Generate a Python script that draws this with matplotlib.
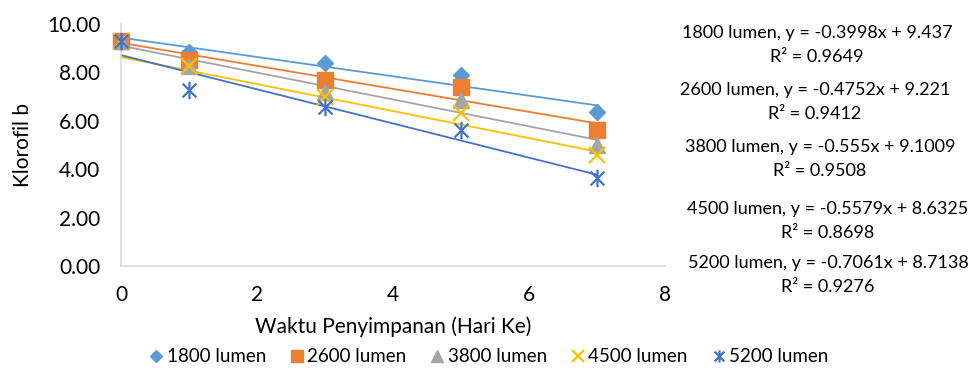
import matplotlib
matplotlib.use("Agg")
import matplotlib.pyplot as plt
import numpy as np
from matplotlib.path import Path

plt.rcParams["font.family"] = ["Lato", "DejaVu Sans"]

# data
days = [0, 1, 3, 5, 7]
lux_1800 = [9.30, 8.85, 8.40, 7.90, 6.38]
lux_2600 = [9.30, 8.53, 7.70, 7.41, 5.63]
lux_3800 = [9.30, 8.28, 7.20, 6.87, 5.01]
lux_4500 = [9.30, 8.28, 7.00, 6.33, 4.60]
lux_5200 = [9.30, 7.29, 6.58, 5.63, 3.64]

labels = ["1800 lumen", "2600 lumen", "3800 lumen", "4500 lumen", "5200 lumen"]
slopes = [-0.3998, -0.4752, -0.555, -0.5579, -0.7061]
intercepts = [9.437, 9.221, 9.1009, 8.6325, 8.7138]
r2 = ["0.9649", "0.9412", "0.9508", "0.8698", "0.9276"]
eq_texts = [
    "1800 lumen, y = -0.3998x + 9.437",
    "2600 lumen, y = -0.4752x + 9.221",
    "3800 lumen, y = -0.555x + 9.1009",
    "4500 lumen, y = -0.5579x + 8.6325",
    "5200 lumen, y = -0.7061x + 8.7138",
]

colors = ["#5B9BD5", "#ED7D31", "#A5A5A5", "#FFC000", "#4472C4"]

# Excel style "star" marker: x with a vertical bar
star = Path(
    [(-1, -1), (1, 1), (-1, 1), (1, -1), (0, -1.25), (0, 1.25)],
    [Path.MOVETO, Path.LINETO, Path.MOVETO, Path.LINETO, Path.MOVETO, Path.LINETO],
)

series = [lux_1800, lux_2600, lux_3800, lux_4500, lux_5200]
markers = ["D", "s", "^", "x", star]
sizes = [8.6, 12, 12, 11.5, 12.5]

fig = plt.figure(figsize=(9.79, 3.68), dpi=100)
ax = fig.add_axes([121 / 979, (368 - 266) / 368, 544 / 979, 242 / 368])

x_fit = np.array([0, 7])
for vals, lab, m, ms, c, k, b in zip(series, labels, markers, sizes, colors, slopes, intercepts):
    ax.plot(x_fit, k * x_fit + b, color=c, lw=1.3, zorder=2)
    if m == "x" or isinstance(m, Path):
        ax.plot(days, vals, ls="none", marker=m, ms=ms, mec=c, mfc="none",
                mew=1.6, label=lab, zorder=3, clip_on=False)
    else:
        ax.plot(days, vals, ls="none", marker=m, ms=ms, color=c, mec=c,
                label=lab, zorder=3, clip_on=False)

ax.set_xlim(0, 8)
ax.set_ylim(0, 10)
ax.set_xticks([0, 2, 4, 6, 8])
ax.set_yticks([0, 2, 4, 6, 8, 10])
ax.yaxis.set_major_formatter(matplotlib.ticker.FormatStrFormatter("%.2f"))
ax.tick_params(length=0, labelsize=15, colors="#000000")
ax.tick_params(axis="x", pad=14)
ax.tick_params(axis="y", pad=15)
for s in ["top", "right"]:
    ax.spines[s].set_visible(False)
for s in ["left", "bottom"]:
    ax.spines[s].set_color("#D9D9D9")
    ax.spines[s].set_linewidth(1.2)

ax.set_xlabel("Waktu Penyimpanan (Hari Ke)", fontsize=15, labelpad=8)
ax.set_ylabel("Klorofil b", fontsize=15, labelpad=10)

eq_x = [817, 815, 820, 828, 828]
eq_y = [33, 90, 147, 209, 263]
for t, r, px, py in zip(eq_texts, r2, eq_x, eq_y):
    fig.text(px / 979, 1 - py / 368, t, ha="center", va="center", fontsize=13)
    fig.text(px / 979, 1 - (py + 24) / 368, f"R² = {r}", ha="center", va="center", fontsize=13)

fig.legend(loc="center", bbox_to_anchor=(489 / 979, 1 - 357 / 368), ncol=5,
           frameon=False, fontsize=13.5, handlelength=0.7, handletextpad=0.2,
           columnspacing=1.3, markerscale=0.7)

fig.savefig("out.png", dpi=100)
